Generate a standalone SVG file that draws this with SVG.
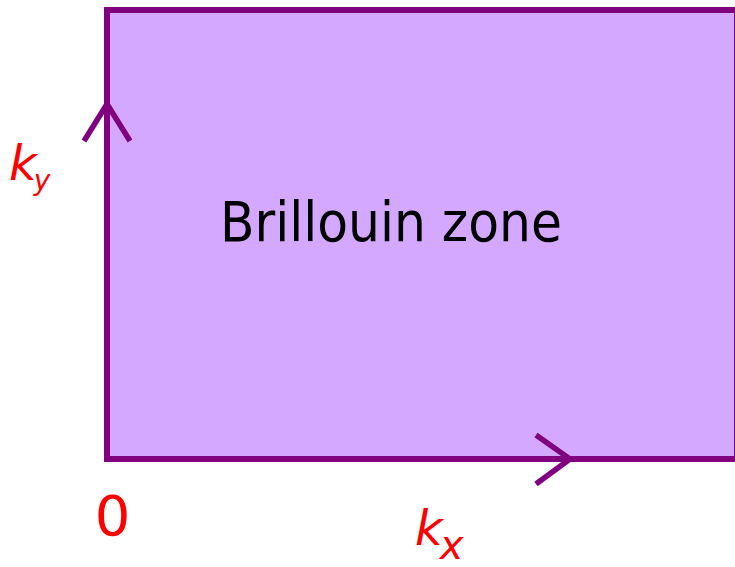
<svg xmlns="http://www.w3.org/2000/svg" width="735" height="567" viewBox="0 0 735 567">
<style>
.axis{fill:none;stroke:#800080;stroke-width:5.5;stroke-linecap:butt;stroke-linejoin:miter}
.lbl{font-family:"DejaVu Sans","Liberation Sans",sans-serif;fill:#ff0000}
.it{font-style:italic}
</style>
<rect width="735" height="567" fill="#ffffff"/>
<g id="zone">
<rect x="107" y="10" width="630" height="449" fill="#d4a8fe" stroke="#800080" stroke-width="6"/>
<text x="220" y="241" font-family="'DejaVu Sans','Liberation Sans',sans-serif" font-size="56" fill="#000000" textLength="342" lengthAdjust="spacingAndGlyphs">Brillouin zone</text>
</g>
<g id="connectors">
<polyline class="axis" points="84,141 107,104 130,141"/>
<polyline class="axis" points="536,435 570,459 536,484"/>
</g>
<g id="labels">
<text class="lbl" x="112.5" y="535" font-size="56" text-anchor="middle">0</text>
<text class="lbl it" x="415" y="545" font-size="48">k<tspan font-size="40" dx="-3" dy="14">x</tspan></text>
<text class="lbl it" x="9" y="180" font-size="48">k<tspan font-size="28" dx="-3" dy="10">y</tspan></text>
</g>
</svg>
